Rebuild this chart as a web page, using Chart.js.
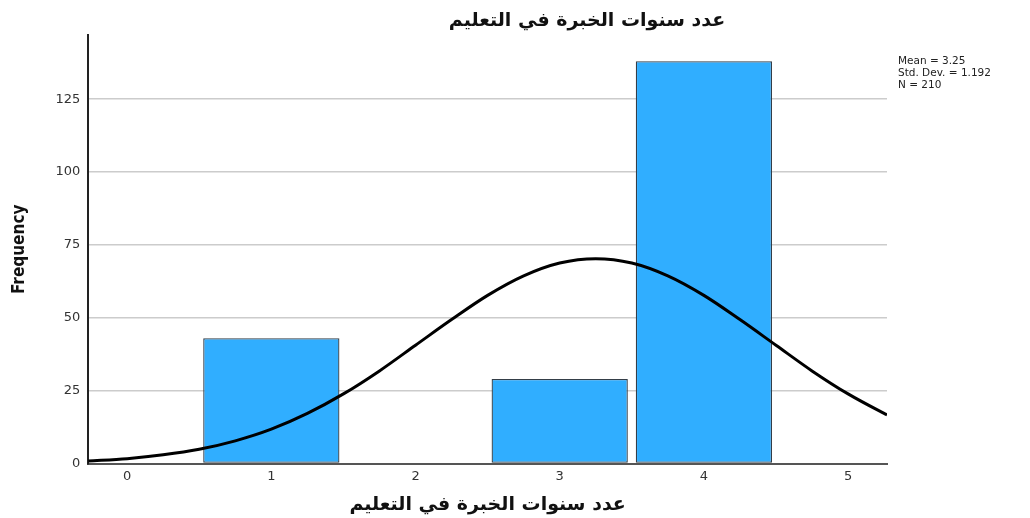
<!DOCTYPE html>
<html>
<head>
<meta charset="utf-8">
<script src="https://cdn.jsdelivr.net/npm/chart.js@4.4.1/dist/chart.umd.min.js"></script>
<style>
  html, body { margin: 0; padding: 0; background: #fff; }
  #wrap { width: 1030px; height: 518px; }
</style>
</head>
<body>
<div id="wrap"><canvas id="histChart"></canvas></div>
<script>
// 資料
const TITLE = 'عدد سنوات الخبرة في التعليم';
const binValues = [1, 3, 4];          // 類別 (年資)
const binCounts = [43, 29, 138];      // 次數
const curveX = [-0.27, 0, 0.25, 0.5, 0.75, 1, 1.25, 1.5, 1.75, 2, 2.25, 2.5, 2.75, 3, 3.25,
  3.5, 3.75, 4, 4.25, 4.5, 4.75, 5, 5.25, 5.27];
const curveY = [0.9, 1.7, 3.0, 4.9, 7.8, 11.8, 17.2, 23.9, 31.8, 40.6, 49.4, 57.7, 64.4, 68.8, 70.3,
  68.8, 64.4, 57.7, 49.4, 40.6, 31.8, 23.9, 17.2, 16.7];
const statLines = ['Mean = 3.25', 'Std. Dev. = 1.192', 'N = 210'];
const yTicks = [0, 25, 50, 75, 100, 125];
const xTicks = [0, 1, 2, 3, 4, 5];

// 標題與右上角統計文字
const textPlugin = {
  id: 'extraText',
  afterDraw(chart) {
    const ctx = chart.ctx;
    ctx.save();
    ctx.textBaseline = 'middle';
    ctx.font = 'bold 19px "DejaVu Sans"';
    ctx.fillStyle = '#111';
    ctx.textAlign = 'center';
    ctx.fillText(TITLE, 587, 21);

    ctx.font = '10.5px "DejaVu Sans"';
    ctx.fillStyle = '#222';
    ctx.textAlign = 'left';
    statLines.forEach((t, i) => ctx.fillText(t, chart.chartArea.right + 11, 61 + i * 12));
    ctx.restore();
  }
};

const ctx = document.getElementById('histChart').getContext('2d');
new Chart(ctx, {
  type: 'bar',
  data: {
    datasets: [
      {
        type: 'line',
        data: curveX.map((x, i) => ({ x: x, y: curveY[i] })),
        borderColor: '#000',
        borderWidth: 3,
        pointRadius: 0,
        cubicInterpolationMode: 'monotone',
        fill: false,
        order: 0
      },
      {
        type: 'bar',
        data: binValues.map((x, i) => ({ x: x, y: binCounts[i] })),
        backgroundColor: '#30aeff',
        borderColor: '#343e48',
        borderWidth: 1.3,
        borderSkipped: false,
        barPercentage: 0.945,
        categoryPercentage: 1,
        order: 1
      }
    ]
  },
  options: {
    responsive: true,
    maintainAspectRatio: false,
    animation: false,
    layout: { padding: { left: 9, right: 143, top: 35, bottom: 2 } },
    plugins: {
      legend: { display: false },
      tooltip: { enabled: false },
      title: { display: false }
    },
    scales: {
      x: {
        type: 'linear',
        offset: false,
        min: -0.27,
        max: 5.27,
        afterBuildTicks: axis => { axis.ticks = xTicks.map(v => ({ value: v })); },
        ticks: {
          color: '#333',
          font: { family: 'DejaVu Sans', size: 13 },
          padding: 5
        },
        grid: { display: false, drawTicks: false },
        border: { display: true, color: '#555', width: 2 },
        title: {
          display: true,
          text: TITLE,
          color: '#111',
          font: { family: 'DejaVu Sans', size: 19, weight: 'bold' },
          padding: { top: 4, bottom: 0 }
        }
      },
      y: {
        min: 0,
        max: 147,
        afterBuildTicks: axis => { axis.ticks = yTicks.map(v => ({ value: v })); },
        ticks: {
          color: '#333',
          font: { family: 'DejaVu Sans', size: 13 },
          padding: 8
        },
        grid: {
          color: ctx => ctx.tick && ctx.tick.value === 0 ? 'rgba(0,0,0,0)' : '#cccccc',
          lineWidth: 1.5,
          drawTicks: false
        },
        border: { display: true, color: '#222', width: 2 },
        title: {
          display: true,
          text: 'Frequency',
          color: '#111',
          font: { family: 'DejaVu Sans Condensed', size: 17, weight: 'bold' },
          padding: { top: 0, bottom: 18 }
        }
      }
    }
  },
  plugins: [textPlugin]
});
</script>
</body>
</html>
